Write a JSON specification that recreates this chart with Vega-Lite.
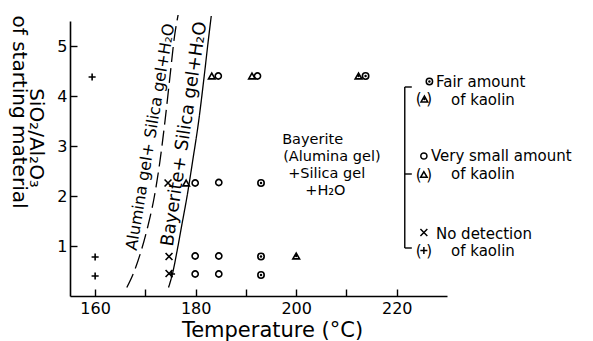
{
  "$schema": "https://vega.github.io/schema/vega-lite/v6.json",
  "width": 377,
  "height": 275,
  "autosize": {"type": "none"},
  "padding": {"left": 70, "top": 21, "right": 146, "bottom": 45},
  "config": {
    "view": {"stroke": null},
    "font": "DejaVu Sans",
    "axis": {
      "domainColor": "black", "domainWidth": 1.6,
      "tickColor": "black", "tickWidth": 1.4, "tickSize": -7,
      "labelColor": "black", "labelFontSize": 16, "labelFont": "DejaVu Sans",
      "grid": false, "titleColor": "black", "titleFontWeight": "normal", "titleFont": "DejaVu Sans"
    }
  },
  "datasets": {
    "samples": [
      {"temp": 159.4, "ratio": 4.38, "kind": "plus"},
      {"temp": 160.0, "ratio": 0.78, "kind": "plus"},
      {"temp": 160.0, "ratio": 0.40, "kind": "plus"},
      {"temp": 175.2, "ratio": 0.44, "kind": "plus"},
      {"temp": 174.5, "ratio": 2.26, "kind": "x"},
      {"temp": 174.7, "ratio": 0.79, "kind": "x"},
      {"temp": 174.7, "ratio": 0.45, "kind": "x"},
      {"temp": 178.1, "ratio": 2.26, "kind": "triangle"},
      {"temp": 183.2, "ratio": 4.40, "kind": "triangle"},
      {"temp": 191.2, "ratio": 4.40, "kind": "triangle"},
      {"temp": 179.9, "ratio": 2.26, "kind": "circle"},
      {"temp": 184.6, "ratio": 2.27, "kind": "circle"},
      {"temp": 179.9, "ratio": 0.80, "kind": "circle"},
      {"temp": 184.6, "ratio": 0.80, "kind": "circle"},
      {"temp": 179.9, "ratio": 0.44, "kind": "circle"},
      {"temp": 184.6, "ratio": 0.44, "kind": "circle"},
      {"temp": 184.5, "ratio": 4.40, "kind": "circle"},
      {"temp": 192.3, "ratio": 4.40, "kind": "circle"},
      {"temp": 193.0, "ratio": 2.26, "kind": "circledot"},
      {"temp": 193.0, "ratio": 0.79, "kind": "circledot"},
      {"temp": 193.0, "ratio": 0.42, "kind": "circledot"},
      {"temp": 213.8, "ratio": 4.40, "kind": "circledot"},
      {"temp": 200.0, "ratio": 0.80, "kind": "tridot"},
      {"temp": 212.4, "ratio": 4.40, "kind": "tridot"}
    ],
    "curves": [
      {"curve": "dashed", "temp": 166.3, "ratio": 0.17},
      {"curve": "dashed", "temp": 167.6, "ratio": 0.45},
      {"curve": "dashed", "temp": 169.0, "ratio": 0.85},
      {"curve": "dashed", "temp": 170.5, "ratio": 1.40},
      {"curve": "dashed", "temp": 171.8, "ratio": 2.00},
      {"curve": "dashed", "temp": 172.9, "ratio": 2.70},
      {"curve": "dashed", "temp": 173.9, "ratio": 3.50},
      {"curve": "dashed", "temp": 174.9, "ratio": 4.40},
      {"curve": "dashed", "temp": 175.8, "ratio": 5.20},
      {"curve": "dashed", "temp": 176.5, "ratio": 5.62},
      {"curve": "solid", "temp": 174.6, "ratio": 0.17},
      {"curve": "solid", "temp": 175.4, "ratio": 0.45},
      {"curve": "solid", "temp": 176.3, "ratio": 0.90},
      {"curve": "solid", "temp": 177.3, "ratio": 1.45},
      {"curve": "solid", "temp": 178.3, "ratio": 2.00},
      {"curve": "solid", "temp": 179.4, "ratio": 2.70},
      {"curve": "solid", "temp": 180.6, "ratio": 3.50},
      {"curve": "solid", "temp": 181.7, "ratio": 4.40},
      {"curve": "solid", "temp": 182.5, "ratio": 5.10},
      {"curve": "solid", "temp": 183.1, "ratio": 5.60}
    ],
    "curveLabels": [
      {"label": "Alumina gel+ Silica gel+H₂O", "temp": 171.0, "ratio": 3.18, "size": "small"},
      {"label": "Bayerite+ Silica gel+H₂O", "temp": 177.8, "ratio": 3.24, "size": "large"}
    ],
    "regionLabel": [
      {"label": "Bayerite", "temp": 197.2, "ratio": 3.13},
      {"label": "(Alumina gel)", "temp": 197.4, "ratio": 2.79},
      {"label": "+Silica gel", "temp": 198.4, "ratio": 2.45},
      {"label": "+H₂O", "temp": 201.8, "ratio": 2.11}
    ],
    "yTitle": [
      {"label": "SiO₂/Al₂O₃", "temp": 148.2, "ratio": 3.16},
      {"label": "of starting material", "temp": 144.8, "ratio": 3.68}
    ],
    "legendSymbols": [
      {"kind": "circledot", "temp": 226.5, "ratio": 4.29},
      {"kind": "tridot", "temp": 225.5, "ratio": 3.94},
      {"kind": "circle", "temp": 225.4, "ratio": 2.80},
      {"kind": "triangle", "temp": 225.4, "ratio": 2.43},
      {"kind": "x", "temp": 225.4, "ratio": 1.27},
      {"kind": "plus", "temp": 225.4, "ratio": 0.91}
    ],
    "legendParens": [
      {"label": "(  )", "temp": 225.4, "ratio": 3.94},
      {"label": "(  )", "temp": 225.4, "ratio": 2.43},
      {"label": "(  )", "temp": 225.4, "ratio": 0.91}
    ],
    "legendLabels": [
      {"label": "Fair amount", "temp": 227.8, "ratio": 4.28},
      {"label": "of kaolin", "temp": 230.8, "ratio": 3.93},
      {"label": "Very small amount", "temp": 226.8, "ratio": 2.80},
      {"label": "of kaolin", "temp": 230.8, "ratio": 2.45},
      {"label": "No detection", "temp": 227.8, "ratio": 1.25},
      {"label": "of kaolin", "temp": 230.8, "ratio": 0.90}
    ],
    "bracket": [
      {"temp": 221.6, "ratio": 4.18, "temp2": 221.6, "ratio2": 0.96},
      {"temp": 221.6, "ratio": 4.18, "temp2": 223.0, "ratio2": 4.18},
      {"temp": 221.6, "ratio": 2.44, "temp2": 223.0, "ratio2": 2.44},
      {"temp": 221.6, "ratio": 0.96, "temp2": 223.0, "ratio2": 0.96}
    ]
  },
  "layer": [
    {
      "data": {"name": "curves"},
      "mark": {"type": "line", "color": "black", "strokeWidth": 1.3, "interpolate": "monotone", "clip": false},
      "encoding": {
        "x": {
          "field": "temp", "type": "quantitative",
          "scale": {"domain": [155, 230], "nice": false, "zero": false},
          "axis": {
            "values": [160, 170, 180, 190, 200, 210, 220],
            "labelExpr": "datum.value % 20 == 0 ? datum.label : ''",
            "labelPadding": 11,
            "title": "Temperature (°C)", "titleFontSize": 21, "titlePadding": 3, "titleX": 202
          }
        },
        "y": {
          "field": "ratio", "type": "quantitative",
          "scale": {"domain": [0, 5.5], "nice": false},
          "axis": {"values": [1, 2, 3, 4, 5], "labelPadding": 10, "title": null}
        },
        "order": {"field": "ratio"},
        "strokeDash": {
          "field": "curve", "type": "nominal",
          "scale": {"domain": ["dashed", "solid"], "range": [[15, 6], [1, 0]]},
          "legend": null
        }
      }
    },
    {
      "data": {"name": "samples"},
      "mark": {"type": "point", "filled": false, "color": "black", "strokeWidth": 1.6, "opacity": 1, "clip": false},
      "encoding": {
        "x": {"field": "temp", "type": "quantitative"},
        "y": {"field": "ratio", "type": "quantitative"},
        "shape": {
          "field": "kind", "type": "nominal",
          "scale": {
            "domain": ["circle", "circledot", "triangle", "tridot", "x", "plus"],
            "range": ["circle", "circle", "triangle-up", "triangle-up", "M-1,-1L1,1M-1,1L1,-1", "M-1,0L1,0M0,-1L0,1"]
          },
          "legend": null
        },
        "size": {
          "field": "kind", "type": "nominal",
          "scale": {
            "domain": ["circle", "circledot", "triangle", "tridot", "x", "plus"],
            "range": [38, 50, 50, 60, 36, 50]
          },
          "legend": null
        }
      }
    },
    {
      "data": {"name": "samples"},
      "transform": [{"filter": {"field": "kind", "oneOf": ["circledot", "tridot"]}}],
      "mark": {"type": "point", "filled": true, "shape": "circle", "color": "black", "size": 6, "opacity": 1},
      "encoding": {
        "x": {"field": "temp", "type": "quantitative"},
        "y": {"field": "ratio", "type": "quantitative"}
      }
    },
    {
      "data": {"name": "legendSymbols"},
      "mark": {"type": "point", "filled": false, "color": "black", "strokeWidth": 1.5, "opacity": 1, "clip": false},
      "encoding": {
        "x": {"field": "temp", "type": "quantitative"},
        "y": {"field": "ratio", "type": "quantitative"},
        "shape": {"field": "kind", "type": "nominal", "legend": null},
        "size": {"field": "kind", "type": "nominal", "legend": null}
      }
    },
    {
      "data": {"name": "legendSymbols"},
      "transform": [{"filter": {"field": "kind", "oneOf": ["circledot", "tridot"]}}],
      "mark": {"type": "point", "filled": true, "shape": "circle", "color": "black", "size": 6, "opacity": 1},
      "encoding": {
        "x": {"field": "temp", "type": "quantitative"},
        "y": {"field": "ratio", "type": "quantitative"}
      }
    },
    {
      "data": {"name": "legendParens"},
      "mark": {"type": "text", "fontSize": 15, "color": "black", "align": "center", "baseline": "middle"},
      "encoding": {
        "x": {"field": "temp", "type": "quantitative"},
        "y": {"field": "ratio", "type": "quantitative"},
        "text": {"field": "label"}
      }
    },
    {
      "data": {"name": "legendLabels"},
      "mark": {"type": "text", "fontSize": 15, "color": "black", "align": "left", "baseline": "middle"},
      "encoding": {
        "x": {"field": "temp", "type": "quantitative"},
        "y": {"field": "ratio", "type": "quantitative"},
        "text": {"field": "label"}
      }
    },
    {
      "data": {"name": "bracket"},
      "mark": {"type": "rule", "color": "black", "strokeWidth": 1.4},
      "encoding": {
        "x": {"field": "temp", "type": "quantitative"},
        "y": {"field": "ratio", "type": "quantitative"},
        "x2": {"field": "temp2"},
        "y2": {"field": "ratio2"}
      }
    },
    {
      "data": {"name": "regionLabel"},
      "mark": {"type": "text", "fontSize": 14.5, "color": "black", "align": "left", "baseline": "middle"},
      "encoding": {
        "x": {"field": "temp", "type": "quantitative"},
        "y": {"field": "ratio", "type": "quantitative"},
        "text": {"field": "label"}
      }
    },
    {
      "data": {"name": "curveLabels"},
      "transform": [{"filter": {"field": "size", "equal": "small"}}],
      "mark": {"type": "text", "fontSize": 16, "color": "black", "align": "center", "baseline": "middle", "angle": -80.5},
      "encoding": {
        "x": {"field": "temp", "type": "quantitative"},
        "y": {"field": "ratio", "type": "quantitative"},
        "text": {"field": "label"}
      }
    },
    {
      "data": {"name": "curveLabels"},
      "transform": [{"filter": {"field": "size", "equal": "large"}}],
      "mark": {"type": "text", "fontSize": 18, "color": "black", "align": "center", "baseline": "middle", "angle": -81.5},
      "encoding": {
        "x": {"field": "temp", "type": "quantitative"},
        "y": {"field": "ratio", "type": "quantitative"},
        "text": {"field": "label"}
      }
    },
    {
      "data": {"name": "yTitle"},
      "mark": {"type": "text", "fontSize": 20, "color": "black", "align": "center", "baseline": "middle", "angle": 90},
      "encoding": {
        "x": {"field": "temp", "type": "quantitative"},
        "y": {"field": "ratio", "type": "quantitative"},
        "text": {"field": "label"}
      }
    }
  ]
}
